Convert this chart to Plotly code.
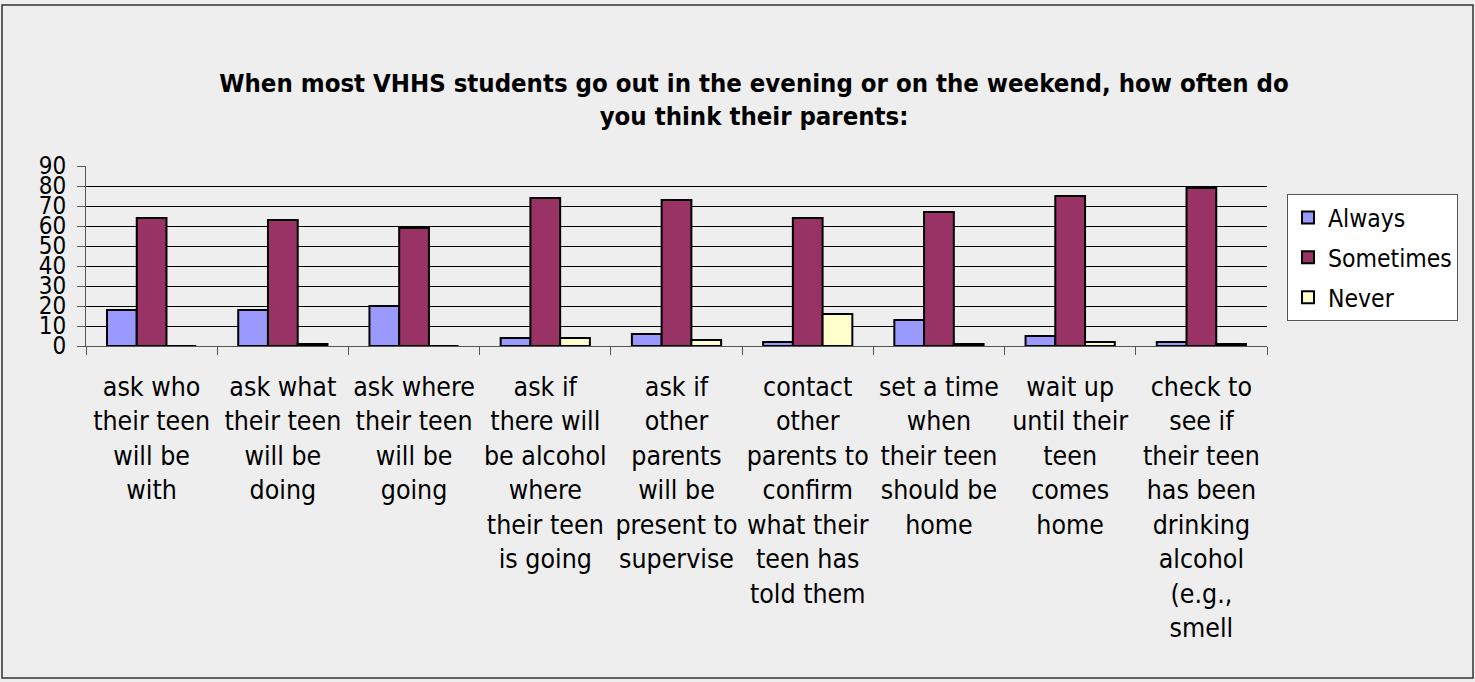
import plotly.graph_objects as go

categories = [
    "ask who their teen will be with",
    "ask what their teen will be doing",
    "ask where their teen will be going",
    "ask if there will be alcohol where their teen is going",
    "ask if other parents will be present to supervise",
    "contact other parents to confirm what their teen has told them",
    "set a time when their teen should be home",
    "wait up until their teen comes home",
    "check to see if their teen has been drinking alcohol (e.g., smell",
]
tick_labels = [
    "ask who<br>their teen<br>will be<br>with",
    "ask what<br>their teen<br>will be<br>doing",
    "ask where<br>their teen<br>will be<br>going",
    "ask if<br>there will<br>be alcohol<br>where<br>their teen<br>is going",
    "ask if<br>other<br>parents<br>will be<br>present to<br>supervise",
    "contact<br>other<br>parents to<br>confirm<br>what their<br>teen has<br>told them",
    "set a time<br>when<br>their teen<br>should be<br>home",
    "wait up<br>until their<br>teen<br>comes<br>home",
    "check to<br>see if<br>their teen<br>has been<br>drinking<br>alcohol<br>(e.g.,<br>smell",
]
always = [18, 18, 20, 4, 6, 2, 13, 5, 2]
sometimes = [64, 63, 59, 74, 73, 64, 67, 75, 79]
never = [0, 1, 0, 4, 3, 16, 1, 2, 1]
y_ticks = [0, 10, 20, 30, 40, 50, 60, 70, 80, 90]

FONT = "DejaVu Sans Condensed, DejaVu Sans, Verdana, sans-serif"
W, H = 1475, 682
L, R, T, B = 86, 1267, 166, 346  # plot area in pixels

def px_x(x):
    return (x - L) / (R - L)

def px_y(y):
    return (B - y) / (B - T)

fig = go.Figure()
series = [("Always", always, "#9999FF"), ("Sometimes", sometimes, "#993366"), ("Never", never, "#FFFFCC")]
for i, (name, vals, col) in enumerate(series):
    fig.add_trace(go.Bar(
        x=categories, y=vals, name=name, legendgroup=f"g{i}",
        marker=dict(color=col, line=dict(color="black", width=2)),
    ))

fig.update_layout(
    width=W, height=H, autosize=False,
    margin=dict(l=L, r=W - R, t=T, b=H - B, pad=0),
    paper_bgcolor="#EEEEEE", plot_bgcolor="#EEEEEE",
    font=dict(family=FONT, color="black", size=24),
    barmode="group", bargap=0.32, bargroupgap=0,
    title=dict(
        text="<b>When most VHHS students go out in the evening or on the weekend, how often do<br>you think their parents:</b>",
        x=px_x(754), xref="paper", xanchor="center",
        y=1 - 92 / H, yref="container", yanchor="middle",
        font=dict(family=FONT, size=25.5, color="black"),
    ),
    legend=dict(
        x=px_x(1287), y=px_y(194), xanchor="left", yanchor="top",
        bgcolor="white", bordercolor="#555555", borderwidth=1,
        font=dict(family=FONT, size=24.5, color="black"),
        tracegroupgap=5, itemclick=False,
    ),
    showlegend=True,
)
fig.update_xaxes(
    type="category", categoryorder="array", categoryarray=categories,
    tickmode="array", tickvals=categories, ticktext=tick_labels,
    tickson="boundaries", ticks="outside", ticklen=8, tickcolor="#555555",
    showline=True, linecolor="#555555", linewidth=1,
    showgrid=False, tickangle=0, ticklabelstandoff=17,
    tickfont=dict(family=FONT, size=26.5, color="black"),
)
fig.update_yaxes(
    range=[0, 90], tickmode="array", tickvals=y_ticks,
    ticks="outside", ticklen=8, tickcolor="#555555",
    showline=True, linecolor="#555555", linewidth=1,
    showgrid=True, gridcolor="black", gridwidth=1,
    zeroline=False, ticklabelstandoff=6,
    tickfont=dict(family=FONT, size=24, color="black"),
)
# outer chart border
fig.add_shape(type="rect", xref="paper", yref="paper",
              x0=px_x(2), x1=px_x(1473), y0=px_y(678), y1=px_y(5),
              line=dict(color="#333333", width=1.5), fillcolor="rgba(0,0,0,0)", layer="below")

fig.write_html("out.html", config={"displayModeBar": False},
               post_script="document.body.style.margin='0';")
